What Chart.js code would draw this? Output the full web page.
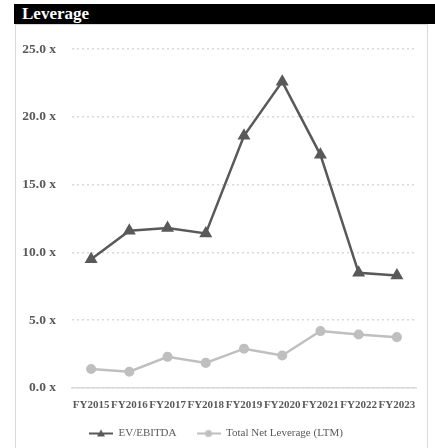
<!DOCTYPE html>
<html>
<head>
<meta charset="utf-8">
<script src="https://cdn.jsdelivr.net/npm/chart.js@4.4.0/dist/chart.umd.min.js"></script>
<style>
  body { margin: 0; background: #fff; width: 435px; height: 448px; overflow: hidden; position: relative; }
  .title {
    position: absolute; left: 14px; top: 4px; width: 421px; height: 20px;
    background: #000; color: #fff; font: bold 17px "Liberation Serif", serif;
    line-height: 20px; padding-left: 8px; box-sizing: border-box;
  }
  .frame {
    position: absolute; left: 15px; top: 24px; width: 413px; height: 424px;
    border: 1px solid #d9d9d9; border-bottom: none; box-sizing: border-box;
  }
  .chart-box { position: absolute; left: 16px; top: 25px; width: 411px; height: 424px; }
</style>
</head>
<body>
<div class="title">Leverage</div>
<div class="frame"></div>
<div class="chart-box"><canvas id="chart-1"></canvas></div>
<script>
const years = ['FY2015', 'FY2016', 'FY2017', 'FY2018', 'FY2019', 'FY2020', 'FY2021', 'FY2022', 'FY2023'];
const evEbitda = [9.5, 11.6, 11.8, 11.4, 18.6, 22.6, 17.2, 8.5, 8.3];
const netLeverage = [1.4, 1.2, 2.3, 1.85, 2.9, 2.4, 4.2, 3.95, 3.75];
const yTicks = [0, 5, 10, 15, 20, 25];

const darkGrey = '#595959';
const lightGrey = '#bfbfbf';
const serif = '"Liberation Serif", serif';

// little line + marker pictures for the legend, Excel style
function legendMarker(color, shape) {
  const c = document.createElement('canvas');
  c.width = 24;
  c.height = 10;
  const g = c.getContext('2d');
  g.strokeStyle = color;
  g.fillStyle = color;
  g.lineWidth = 2;
  g.beginPath();
  g.moveTo(0, 5);
  g.lineTo(24, 5);
  g.stroke();
  g.beginPath();
  if (shape === 'triangle') {
    g.moveTo(12, 1);
    g.lineTo(16, 8);
    g.lineTo(8, 8);
    g.closePath();
  } else {
    g.arc(12, 5, 3.5, 0, Math.PI * 2);
  }
  g.fill();
  return c;
}

const ctx = document.getElementById('chart-1').getContext('2d');
new Chart(ctx, {
  type: 'line',
  data: {
    labels: years,
    datasets: [{
      label: 'EV/EBITDA',
      data: evEbitda,
      borderColor: darkGrey,
      backgroundColor: darkGrey,
      borderWidth: 2.5,
      pointStyle: 'triangle',
      pointRadius: 5,
      pointHoverRadius: 5,
      tension: 0
    }, {
      label: 'Total Net Leverage (LTM)',
      data: netLeverage,
      borderColor: lightGrey,
      backgroundColor: lightGrey,
      borderWidth: 2.5,
      pointStyle: 'circle',
      pointRadius: 3.8,
      pointHoverRadius: 3.8,
      tension: 0
    }]
  },
  options: {
    responsive: true,
    maintainAspectRatio: false,
    animation: false,
    layout: {
      padding: { top: 6, right: 11, left: 0, bottom: 0 }
    },
    scales: {
      x: {
        offset: true,
        afterFit: (scale) => { scale.height = 20; },
        grid: { display: false, drawTicks: false },
        border: { display: true, color: '#d9d9d9', width: 1.5 },
        ticks: {
          color: darkGrey,
          font: { family: serif, size: 11, weight: 'bold' },
          padding: 11,
          maxRotation: 0,
          autoSkip: false
        }
      },
      y: {
        min: 0,
        max: 25,
        afterFit: (scale) => { scale.width = 56; },
        afterBuildTicks: (scale) => { scale.ticks = yTicks.map(v => ({ value: v })); },
        grid: {
          drawTicks: false,
          color: '#d9d9d9',
          lineWidth: 1.5
        },
        border: { display: false, dash: [2, 3] },
        ticks: {
          color: darkGrey,
          font: { family: serif, size: 13.5, weight: 'bold' },
          padding: 16,
          callback: (v) => Number(v).toFixed(1) + ' x'
        }
      }
    },
    plugins: {
      tooltip: { enabled: false },
      legend: {
        position: 'bottom',
        labels: {
          color: darkGrey,
          font: { family: serif, size: 11 },
          usePointStyle: true,
          pointStyleWidth: 24,
          padding: 20,
          generateLabels: (chart) => chart.data.datasets.map((ds, i) => ({
            text: ds.label,
            fontColor: darkGrey,
            pointStyle: legendMarker(ds.borderColor, ds.pointStyle),
            datasetIndex: i,
            hidden: false,
            lineWidth: 0,
            strokeStyle: 'rgba(0,0,0,0)',
            fillStyle: 'rgba(0,0,0,0)'
          }))
        }
      }
    }
  }
});
</script>
</body>
</html>
